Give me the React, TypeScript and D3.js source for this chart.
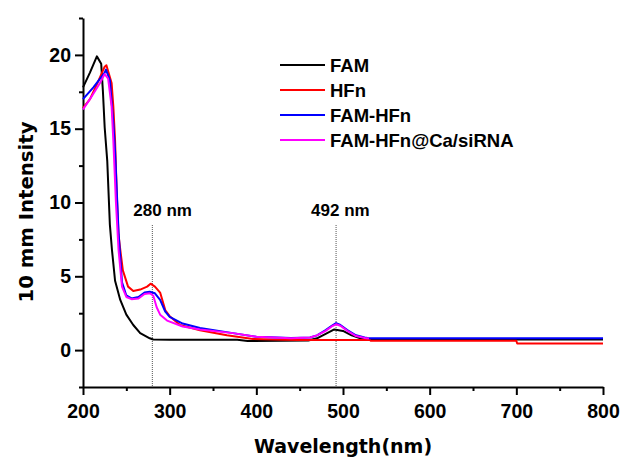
import React, { useEffect, useRef } from "react";
import * as d3 from "d3";

// wavelength (nm) / intensity pairs
const famX = [200, 208, 216, 221, 223, 225, 228, 231, 233.4, 237, 243, 250, 258, 266, 277, 281, 300, 378, 390, 460, 470, 480, 490, 500, 510, 520, 530, 800];
const famY = [17.8, 18.8, 19.9, 19.4, 17.5, 15.1, 12.8, 8.5, 6.8, 4.7, 3.4, 2.4, 1.7, 1.15, 0.8, 0.72, 0.7, 0.7, 0.62, 0.65, 0.8, 1.1, 1.4, 1.3, 1.0, 0.8, 0.72, 0.72];

const hfnX = [200, 208, 216, 225, 227, 233, 235, 237, 239, 241, 243, 246, 252, 258, 266, 274, 278, 283, 289, 295, 300, 312, 335, 366, 396, 430, 448, 531, 532, 700, 701, 800];
const hfnY = [16.4, 17.0, 18.0, 19.2, 19.3, 18.1, 16.5, 14.2, 10.5, 7.8, 6.8, 5.4, 4.3, 4.0, 4.1, 4.3, 4.5, 4.3, 3.9, 2.7, 2.3, 1.7, 1.35, 1.0, 0.75, 0.7, 0.68, 0.68, 0.63, 0.63, 0.45, 0.45];

const famHfnX = [200, 212, 225, 226.5, 231, 235, 237, 241, 245, 250, 256, 264, 271, 277, 283, 289, 295, 300, 315, 335, 373, 400, 440, 462, 470, 480, 487, 492, 497, 505, 515, 525, 530, 800];
const famHfnY = [17.0, 17.8, 18.8, 19.0, 18.3, 15.4, 13.5, 8.0, 4.6, 3.7, 3.5, 3.6, 3.9, 3.95, 3.85, 3.4, 2.6, 2.25, 1.8, 1.5, 1.15, 0.9, 0.82, 0.85, 1.0, 1.35, 1.65, 1.83, 1.7, 1.35, 1.0, 0.85, 0.8, 0.8];

const caX = [200, 208, 219.6, 225, 229, 233, 235, 238, 241, 245, 250, 256, 264, 271, 277, 281, 285, 289, 297, 315, 335, 373, 400, 440, 462, 470, 480, 487, 492, 497, 505, 515, 525, 530];
const caY = [16.3, 17.0, 18.1, 18.7, 18.4, 16.5, 14.2, 10.0, 6.8, 4.3, 3.6, 3.45, 3.5, 3.8, 3.85, 3.7, 2.9, 2.4, 2.0, 1.6, 1.4, 1.15, 0.9, 0.8, 0.85, 1.0, 1.3, 1.6, 1.75, 1.65, 1.3, 0.95, 0.82, 0.78];

const seriesNames = ["FAM", "HFn", "FAM-HFn", "FAM-HFn@Ca/siRNA"];
const seriesColors = ["#000000", "#ff0000", "#0000ff", "#ff00ff"];
const seriesX = [famX, hfnX, famHfnX, caX];
const seriesY = [famY, hfnY, famHfnY, caY];

const xTicks = [200, 300, 400, 500, 600, 700, 800];
const yTicks = [0, 5, 10, 15, 20];
const markers = [280, 492];

export default function App() {
  const ref = useRef<SVGSVGElement>(null);

  const width = 625;
  const height = 463;

  useEffect(() => {
    const svg = d3.select(ref.current);
    svg.selectAll("*").remove();

    const x = d3.scaleLinear().domain([200, 800]).range([83, 603]);
    const y = d3.scaleLinear().domain([-2.5, 22.5]).range([387, 18]);

    const tickFont = "'Liberation Sans', Arial, sans-serif";
    const titleFont = "'DejaVu Sans', sans-serif";

    // x axis
    const gx = svg.append("g").attr("transform", `translate(0, ${y(-2.5)})`);
    gx.append("g")
      .call(d3.axisBottom(x).tickValues(d3.range(250, 800, 100)).tickSize(4).tickFormat(() => ""))
      .call((g) => g.select(".domain").remove());
    gx.append("g")
      .call(d3.axisBottom(x).tickValues(xTicks).tickSize(8).tickSizeOuter(0).tickPadding(9))
      .call((g) => g.select(".domain").attr("stroke-width", 2));
    gx.selectAll("line").attr("stroke-width", 2);
    gx.selectAll("text")
      .attr("font-family", tickFont)
      .attr("font-weight", "bold")
      .attr("font-size", 19.5)
      .attr("fill", "#000");

    // y axis
    const gy = svg.append("g").attr("transform", `translate(${x(200)}, 0)`);
    gy.append("g")
      .call(d3.axisLeft(y).tickValues([-2.5, 2.5, 7.5, 12.5, 17.5, 22.5]).tickSize(4).tickFormat(() => ""))
      .call((g) => g.select(".domain").remove());
    gy.append("g")
      .call(d3.axisLeft(y).tickValues(yTicks).tickSize(8).tickSizeOuter(0).tickPadding(4))
      .call((g) => g.select(".domain").attr("stroke-width", 2));
    gy.selectAll("line").attr("stroke-width", 2);
    gy.selectAll("text")
      .attr("font-family", tickFont)
      .attr("font-weight", "bold")
      .attr("font-size", 19.5)
      .attr("fill", "#000");

    // dotted marker lines + labels
    const markerDx = [-19, -25];
    markers.forEach((m, i) => {
      svg.append("line")
        .attr("x1", x(m))
        .attr("x2", x(m))
        .attr("y1", 225)
        .attr("y2", y(-2.5))
        .attr("stroke", "#555")
        .attr("stroke-width", 1)
        .attr("stroke-dasharray", "1,1");
      svg.append("text")
        .attr("x", x(m) + markerDx[i])
        .attr("y", 216)
        .attr("font-family", tickFont)
        .attr("font-weight", "bold")
        .attr("font-size", 17)
        .text(`${m} nm`);
    });

    // curves
    const line = d3
      .line<number>()
      .x((d) => d)
      .y((d) => d);

    seriesNames.forEach((name, i) => {
      const pts = seriesX[i].map((w, j) => [x(w), y(seriesY[i][j])] as [number, number]);
      svg.append("path")
        .attr("class", "spectrum")
        .attr("d", d3.line()(pts))
        .attr("fill", "none")
        .attr("stroke", seriesColors[i])
        .attr("stroke-width", 2)
        .attr("stroke-linejoin", "round");
    });

    // legend
    const legend = svg.append("g");
    seriesNames.forEach((name, i) => {
      const ly = 65 + i * 25;
      legend.append("line")
        .attr("x1", 280)
        .attr("x2", 325)
        .attr("y1", ly)
        .attr("y2", ly)
        .attr("stroke", seriesColors[i])
        .attr("stroke-width", 2);
      legend.append("text")
        .attr("x", 330)
        .attr("y", ly + 7)
        .attr("font-family", tickFont)
        .attr("font-weight", "bold")
        .attr("font-size", 18.5)
        .text(name);
    });

    // axis titles
    svg.append("text")
      .attr("x", 343)
      .attr("y", 453)
      .attr("text-anchor", "middle")
      .attr("font-family", titleFont)
      .attr("font-weight", "bold")
      .attr("font-size", 19)
      .text("Wavelength(nm)");

    svg.append("text")
      .attr("transform", `translate(33, 212) rotate(-90)`)
      .attr("text-anchor", "middle")
      .attr("font-family", titleFont)
      .attr("font-weight", "bold")
      .attr("font-size", 19.7)
      .text("10 mm Intensity");
  }, []);

  return (
    <svg
      ref={ref}
      width={width}
      height={height}
      style={{ position: "absolute", left: 0, top: 0, background: "#fff" }}
    ></svg>
  );
}
